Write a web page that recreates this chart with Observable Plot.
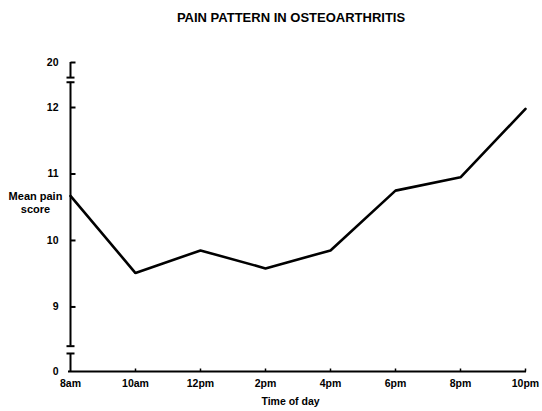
<!DOCTYPE html>
<html>
<head>
<meta charset="utf-8">
<script src="https://cdn.jsdelivr.net/npm/d3@7"></script>
<script src="https://cdn.jsdelivr.net/npm/@observablehq/plot@0.6"></script>
<style>
  body { margin: 0; background: #fff; }
  #wrap { position: relative; width: 542px; height: 411px; overflow: hidden; }
  #title { position: absolute; left: 91px; width: 400px; top: 11px; text-align: center;
    font: bold 13px "Liberation Sans", Arial, sans-serif; line-height: 13px; color: #000; }
  #chart { position: absolute; left: 0; top: 0; }
</style>
</head>
<body>
<div id="wrap">
  <div id="chart"></div>
  <div id="title">PAIN PATTERN IN OSTEOARTHRITIS</div>
</div>
<script>
const times = ["8am", "10am", "12pm", "2pm", "4pm", "6pm", "8pm", "10pm"];
const painScores = [10.67, 9.51, 9.85, 9.58, 9.85, 10.75, 10.95, 11.98];
const yTickValues = [0, 9, 10, 11, 12, 20];
const yTickMarks = [9, 10, 11, 12, 20];
// broken-axis breakpoints (value positions of the break bars)
const lowerBreak = [8.3, 8.41];
const upperBreak = [12.38, 12.45];
// compressed display units for the broken parts (0..8.3 and 12.45..20)
const compressedEnds = [8.029, 12.677];

const data = times.map((t, i) => ({time: t, score: painScores[i]}));
const axisSegments = [
  {y1: 0, y2: lowerBreak[0]},
  {y1: lowerBreak[1], y2: upperBreak[0]},
  {y1: upperBreak[1], y2: 20}
];
const breakBars = [...lowerBreak, ...upperBreak];

// piecewise value transform for the broken axis
const brokenAxis = d3.scaleLinear()
  .domain([0, lowerBreak[0], upperBreak[1], 20])
  .range([compressedEnds[0], lowerBreak[0], upperBreak[1], compressedEnds[1]]);

const rightTick = {draw(ctx, size) { const r = Math.sqrt(size / Math.PI); ctx.moveTo(0, 0); ctx.lineTo(r, 0); }};
const upTick = {draw(ctx, size) { const r = Math.sqrt(size / Math.PI); ctx.moveTo(0, 0); ctx.lineTo(0, -r); }};
const hBar = {draw(ctx, size) { const r = Math.sqrt(size / Math.PI); ctx.moveTo(-r, 0); ctx.lineTo(r, 0); }};

const font = "'Liberation Sans', Arial, sans-serif";

const chart = Plot.plot({
  width: 542,
  height: 411,
  marginLeft: 68,
  marginRight: 16,
  marginTop: 62,
  marginBottom: 40,
  style: {fontFamily: font, fontWeight: "bold", fontSize: "10.5px", color: "#000", background: "#fff"},
  x: {type: "point", domain: times, padding: 0},
  y: {transform: v => brokenAxis(v), domain: compressedEnds},
  marks: [
    Plot.ruleY([0], {stroke: "#000", strokeWidth: 2}),
    Plot.ruleX(axisSegments, {x: () => times[0], y1: "y1", y2: "y2", stroke: "#000", strokeWidth: 2}),
    Plot.dot(breakBars, {x: () => times[0], y: d => d, r: 4, symbol: hBar, fill: "none", stroke: "#000", strokeWidth: 2}),
    Plot.dot(yTickMarks, {x: () => times[0], y: d => d, r: 5, symbol: rightTick, fill: "none", stroke: "#000", strokeWidth: 2}),
    Plot.dot(times.slice(1), {x: d => d, y: () => 0, r: 3, symbol: upTick, fill: "none", stroke: "#000", strokeWidth: 1.5}),
    Plot.axisY(yTickValues, {tickSize: 0, tickPadding: 10, fontSize: 10.5, tickFormat: d3.format("d")}),
    Plot.axisX({tickSize: 0, tickPadding: 8, label: null}),
    Plot.line(data, {x: "time", y: "score", stroke: "#000", strokeWidth: 2.6, strokeLinejoin: "miter"}),
    Plot.text(["Time of day"], {frameAnchor: "bottom", dy: 33, dx: -7, fontSize: 10.5}),
    Plot.text(["Mean pain\nscore"], {frameAnchor: "left", dx: -33, dy: -15, textAnchor: "middle", fontSize: 11, lineHeight: 1.25})
  ]
});
document.getElementById("chart").appendChild(chart);
</script>
</body>
</html>
